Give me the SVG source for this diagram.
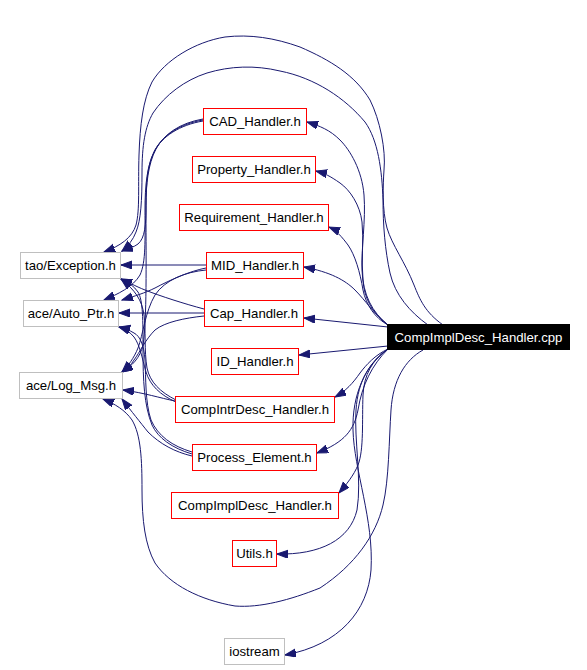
<svg xmlns="http://www.w3.org/2000/svg" width="587" height="670" viewBox="0 0 587 670">
<style>
.e{fill:none;stroke:#191970;stroke-width:1;marker-end:url(#ah)}
.n rect{fill:#ffffff;stroke:#ff0000;stroke-width:1}
.x rect{fill:#ffffff;stroke:#bfbfbf;stroke-width:1}
.r rect{fill:#000000;stroke:#000000;stroke-width:1}
text{font-family:"Liberation Sans",Arial,sans-serif;font-size:13.2px;text-anchor:middle;fill:#000000}
.r text{fill:#ffffff}
</style>
<defs>
<marker id="ah" markerUnits="userSpaceOnUse" markerWidth="12" markerHeight="9" refX="11" refY="4" orient="auto">
<path d="M0,0 L11,4 L0,8 z" fill="#191970" stroke="#191970" stroke-width="1"/>
</marker>
</defs>
<rect width="587" height="670" fill="#ffffff"/>
<g id="edges">
<!-- cpp to local headers -->
<path class="e" d="M388,325 C372,312 363,295 362,270 C361,250 366,220 364,195 C362,170 350,150 340,140 C330,130 320,126 307,122"/>
<path class="e" d="M388,325 C372,313 364,298 363,280 C361,260 364,240 362,222 C360,205 350,190 340,183 C330,176 324,173 316,171"/>
<path class="e" d="M388,325 C375,318 366,305 363,290 C360,272 355,255 348,245 C342,237 336,230 329,227"/>
<path class="e" d="M388,325 C375,315 365,300 355,290 C345,280 330,272 304,267"/>
<path class="e" d="M388,327 L304,318"/>
<path class="e" d="M388,346 L299,355"/>
<path class="e" d="M388,349 C375,355 366,365 360,373 C353,383 346,391 335,397"/>
<path class="e" d="M388,349 C372,365 362,385 358,410 C354,430 345,442 317,453"/>
<path class="e" d="M388,349 C372,360 364,375 363,395 C362,420 364,450 358,465 C354,475 346,485 339,493"/>
<path class="e" d="M388,349 C370,362 358,380 356,410 C354,440 362,480 357,510 C350,540 320,555 277,554"/>
<path class="e" d="M388,349 C365,365 352,395 353,430 C354,470 374,520 371,570 C368,610 340,645 285,655"/>
<!-- cpp to external headers -->
<path class="e" d="M423,350 C405,360 393,380 391,410 C389,440 389,480 383,505 C376,535 355,565 320,588 C290,600 260,608 235,606 C200,600 170,585 155,563 C145,545 142,520 142,490 C142,460 141,435 132,420 C125,410 115,404 103,399"/>
<path class="e" d="M443,325 C425,312 420,300 414,285 C405,262 392,245 387,228 C382,210 383,185 384,170 C386,150 380,120 370,100 C355,75 330,60 300,47 C275,38 250,34 225,37 C195,42 165,60 152,82 C143,100 140,125 139,155 C138,185 140,210 136,225 C132,238 120,246 104,252"/>
<path class="e" d="M428,325 C410,312 395,295 390,273 C385,250 383,225 383,200 C382,170 378,140 365,122 C345,98 315,78 280,71 C255,65 230,66 207,73 C185,80 165,95 153,113 C145,127 142,145 142,173 C142,200 141,220 136,232 C133,240 128,246 122,251"/>
<!-- CAD_Handler.h -->
<path class="e" d="M203,119 C180,123 164,134 156,149 C148,164 146,185 146,205 C146,225 145,238 138,244 C134,247 128,249 122,251"/>
<path class="e" d="M203,120 C180,124 163,135 155,150 C147,165 145,185 145,210 C145,240 146,262 140,275 C133,287 118,294 104,300"/>
<path class="e" d="M203,121 C180,125 162,136 154,152 C146,168 146,190 146,215 C146,260 147,320 143,345 C140,358 132,366 122,372"/>
<!-- MID_Handler.h -->
<path class="e" d="M206,265 L121,265"/>
<path class="e" d="M206,268 C190,271 170,280 155,288 C145,293 135,296 122,300"/>
<path class="e" d="M206,270 C185,272 165,280 155,295 C145,312 143,335 138,348 C134,358 128,366 122,372"/>
<!-- Cap_Handler.h -->
<path class="e" d="M204,313 L119,313"/>
<path class="e" d="M204,309 C185,304 160,296 145,290 C135,286 128,282 121,279"/>
<path class="e" d="M204,316 C185,318 165,322 155,330 C145,340 140,352 134,360 C131,365 127,369 122,372"/>
<!-- CompIntrDesc_Handler.h -->
<path class="e" d="M175,401 C160,398 145,393 123,390"/>
<path class="e" d="M176,400 C160,392 150,382 147,368 C144,350 146,330 144,315 C142,300 135,290 121,279"/>
<path class="e" d="M176,402 C160,395 150,385 146,372 C142,358 140,345 134,337 C130,332 125,329 119,327"/>
<!-- Process_Element.h -->
<path class="e" d="M192,456 C175,452 160,444 148,432 C140,422 132,412 122,399"/>
<path class="e" d="M192,454 C172,448 158,438 152,425 C144,405 143,380 143,350 C143,320 143,300 138,292 C134,286 128,282 121,279"/>
<path class="e" d="M192,452 C172,446 158,436 151,420 C145,402 146,378 145,360 C144,345 140,336 134,333 C129,330 124,328 119,327"/>
</g>
<g id="node-cpp" class="r"><rect x="387.5" y="324.5" width="182" height="25"/><text x="478.5" y="342">CompImplDesc_Handler.cpp</text></g>
<g id="node-cad" class="n"><rect x="203.5" y="108.5" width="103" height="26"/><text x="255" y="126">CAD_Handler.h</text></g>
<g id="node-property" class="n"><rect x="192.5" y="156.5" width="123" height="26"/><text x="254" y="174">Property_Handler.h</text></g>
<g id="node-requirement" class="n"><rect x="179.5" y="204.5" width="149" height="26"/><text x="254" y="222">Requirement_Handler.h</text></g>
<g id="node-mid" class="n"><rect x="206.5" y="252.5" width="97" height="26"/><text x="255" y="270">MID_Handler.h</text></g>
<g id="node-cap" class="n"><rect x="204.5" y="300.5" width="99" height="26"/><text x="254" y="318">Cap_Handler.h</text></g>
<g id="node-id" class="n"><rect x="211.5" y="348.5" width="87" height="26"/><text x="255" y="366">ID_Handler.h</text></g>
<g id="node-compintrdesc" class="n"><rect x="175.5" y="396.5" width="159" height="26"/><text x="255" y="414">CompIntrDesc_Handler.h</text></g>
<g id="node-process" class="n"><rect x="192.5" y="444.5" width="124" height="26"/><text x="254.5" y="462">Process_Element.h</text></g>
<g id="node-compimpldesc" class="n"><rect x="171.5" y="492.5" width="167" height="26"/><text x="255" y="510">CompImplDesc_Handler.h</text></g>
<g id="node-utils" class="n"><rect x="232.5" y="540.5" width="44" height="26"/><text x="254.5" y="558">Utils.h</text></g>
<g id="node-iostream" class="x"><rect x="224.5" y="638.5" width="60" height="26"/><text x="254.5" y="656">iostream</text></g>
<g id="node-exception" class="x"><rect x="20.5" y="252.5" width="100" height="26"/><text x="70.5" y="270">tao/Exception.h</text></g>
<g id="node-autoptr" class="x"><rect x="23.5" y="300.5" width="95" height="26"/><text x="71" y="318">ace/Auto_Ptr.h</text></g>
<g id="node-logmsg" class="x"><rect x="19.5" y="372.5" width="103" height="26"/><text x="71" y="390">ace/Log_Msg.h</text></g>
</svg>
